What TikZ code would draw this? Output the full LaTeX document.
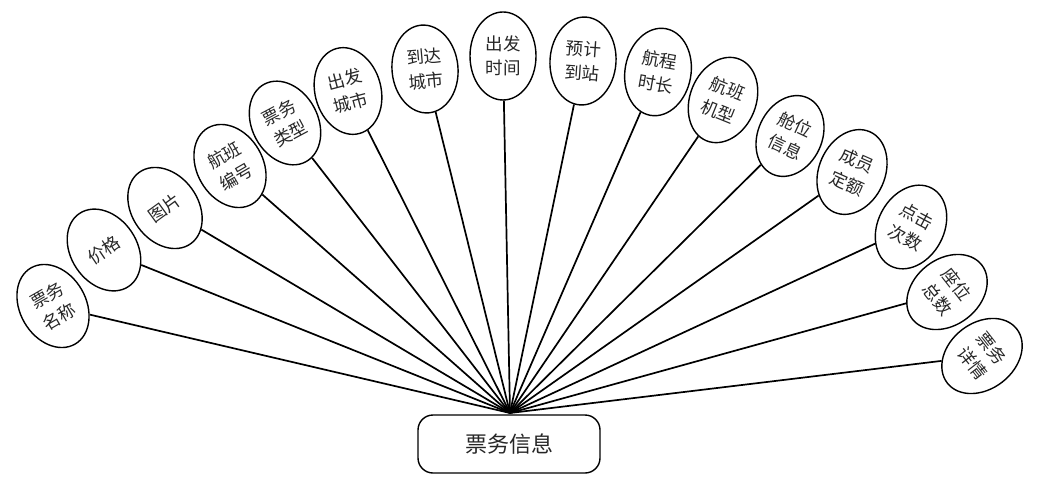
\documentclass[tikz,border=0pt]{standalone}
\usepackage{fontspec}
\setmainfont{Noto Sans CJK SC}
\usetikzlibrary{shapes.geometric}
\tikzset{
  attr/.style={ellipse, draw=black, line width=1.4pt, minimum width=66pt, minimum height=88pt,
    inner sep=0pt, align=center, font=\fontsize{17.5}{24.5}\selectfont, text=black!85},
  main/.style={rectangle, rounded corners=15pt, draw=black, line width=1.4pt, minimum width=182pt,
    minimum height=58pt, font=\fontsize{22}{26}\selectfont, text=black!85},
  spoke/.style={draw=black, line width=1.7pt}
}
\begin{document}
\begin{tikzpicture}[x=1pt,y=1pt]
\useasboundingbox (0,0) rectangle (1064,-481);
\node[main] (m) at (509,-444) {票务信息};
\coordinate (hub) at (510,-413);
\node[attr, rotate=30]  (e1)  at (53,-306)  {票务\\名称};
\node[attr, rotate=34]  (e2)  at (104,-250) {价格};
\node[attr, rotate=36]  (e3)  at (165,-208) {图片};
\node[attr, rotate=30]  (e4)  at (230,-166) {航班\\编号};
\node[attr, rotate=28]  (e5)  at (285,-123) {票务\\类型};
\node[attr, rotate=15]  (e6)  at (348,-91)  {出发\\城市};
\node[attr, rotate=5]   (e7)  at (425,-69)  {到达\\城市};
\node[attr, rotate=0]   (e8)  at (503,-56)  {出发\\时间};
\node[attr, rotate=-4]  (e9)  at (583,-61)  {预计\\到站};
\node[attr, rotate=-10] (e10) at (658,-72)  {航程\\时长};
\node[attr, rotate=-22] (e11) at (723,-100) {航班\\机型};
\node[attr, rotate=-25, minimum width=64pt, minimum height=84pt] (e12) at (790,-136) {舱位\\信息};
\node[attr, rotate=-24] (e13) at (852,-172) {成员\\定额};
\node[attr, rotate=-28] (e14) at (911,-227) {点击\\次数};
\node[attr, rotate=-52] (e15) at (947,-292) {座位\\总数};
\node[attr, rotate=-52] (e16) at (982,-356) {票务\\详情};
\foreach \i in {1,...,16} { \draw[spoke] (hub) -- (e\i); }
\end{tikzpicture}
\end{document}
